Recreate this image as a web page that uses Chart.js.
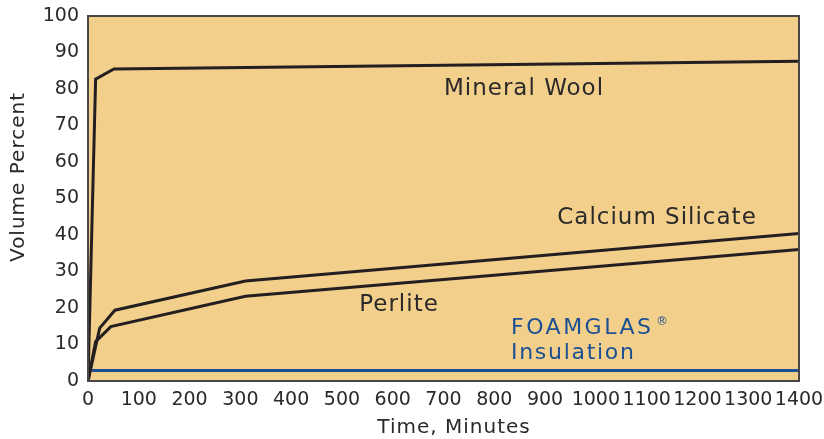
<!DOCTYPE html>
<html>
<head>
<meta charset="utf-8">
<script src="https://cdn.jsdelivr.net/npm/chart.js@4/dist/chart.umd.min.js"></script>
<style>
  html, body { margin: 0; padding: 0; background: #fff; }
  #wrap { width: 824px; height: 439px; }
</style>
</head>
<body>
<div id="wrap"><canvas id="c" width="824" height="439"></canvas></div>
<script>
'use strict';

// values (minutes, volume percent)
var mineralX = [0, 15, 51, 1400];
var mineralY = [0, 82.7, 85.5, 87.6];
var calciumX = [0, 23, 53, 310, 1400];
var calciumY = [0, 14.5, 19.4, 27.4, 40.4];
var perliteX = [0, 15, 45, 310, 1400];
var perliteY = [0, 10.8, 14.9, 23.2, 36.0];
var foamX = [8, 1400];
var foamY = [2.9, 2.9];

var xTicks = [0, 100, 200, 300, 400, 500, 600, 700, 800, 900, 1000, 1100, 1200, 1300, 1400];
var yTicks = [0, 10, 20, 30, 40, 50, 60, 70, 80, 90, 100];

var FONT = '"DejaVu Sans", sans-serif';
var INK = '#231f20';
var TEXT = '#2b2929';
var BLUE = '#1d4f93';
var FILL = '#f2d08c';

function pts(xs, ys) {
    return xs.map(function(x, i) { return { x: x, y: ys[i] }; });
}

function lineSet(label, xs, ys, color, width) {
    return {
        label: label,
        data: pts(xs, ys),
        showLine: true,
        borderColor: color,
        borderWidth: width,
        pointRadius: 0,
        fill: false,
        tension: 0,
        borderJoinStyle: 'miter'
    };
}

function noPad(s) {
    s.paddingTop = 0; s.paddingBottom = 0;
    s.paddingLeft = 0; s.paddingRight = 0;
}

var plotFrame = {
    id: 'plotFrame',
    beforeDatasetsDraw: function(chart) {
        var a = chart.chartArea, ctx = chart.ctx;
        ctx.save();
        ctx.fillStyle = FILL;
        ctx.fillRect(a.left, a.top, a.right - a.left, a.bottom - a.top);
        ctx.restore();
    },
    afterDatasetsDraw: function(chart) {
        var a = chart.chartArea, ctx = chart.ctx;
        ctx.save();
        ctx.strokeStyle = '#4a4646';
        ctx.lineWidth = 2;
        ctx.strokeRect(a.left, a.top, a.right - a.left, a.bottom - a.top);

        ctx.fillStyle = TEXT;
        ctx.textAlign = 'center';
        ctx.textBaseline = 'middle';
        ctx.font = '23px ' + FONT;
        ctx.letterSpacing = '1px';
        ctx.fillText('Mineral Wool', 524, 89);
        ctx.fillText('Calcium Silicate', 657, 218);
        ctx.fillText('Perlite', 399, 305);

        ctx.fillStyle = BLUE;
        ctx.textAlign = 'left';
        ctx.font = '22px ' + FONT;
        ctx.letterSpacing = '2.5px';
        ctx.fillText('FOAMGLAS', 511, 328);
        ctx.font = '12px ' + FONT;
        ctx.letterSpacing = '0px';
        ctx.fillText('\u00ae', 656, 322);
        ctx.font = '22px ' + FONT;
        ctx.letterSpacing = '1.7px';
        ctx.fillText('Insulation', 511, 353);

        // axis titles
        ctx.fillStyle = TEXT;
        ctx.letterSpacing = '1px';
        ctx.font = '20px ' + FONT;
        ctx.textAlign = 'center';
        ctx.fillText('Time, Minutes', 454, 428);
        ctx.translate(19, 177);
        ctx.rotate(-Math.PI / 2);
        ctx.fillText('Volume Percent', 0, 0);
        ctx.restore();
    }
};

new Chart(document.getElementById('c').getContext('2d'), {
    type: 'scatter',
    data: {
        datasets: [
            lineSet('Mineral Wool', mineralX, mineralY, INK, 3),
            lineSet('Calcium Silicate', calciumX, calciumY, INK, 3),
            lineSet('Perlite', perliteX, perliteY, INK, 3),
            lineSet('FOAMGLAS Insulation', foamX, foamY, BLUE, 3)
        ]
    },
    options: {
        responsive: false,
        animation: false,
        layout: { padding: { top: 16, right: 25, bottom: 0, left: 0 } },
        plugins: {
            legend: { display: false },
            tooltip: { enabled: false }
        },
        scales: {
            x: {
                type: 'linear',
                min: 0,
                max: 1400,
                afterBuildTicks: function(s) { s.ticks = xTicks.map(function(v) { return { value: v }; }); },
                afterFit: function(s) { s.height = 58; noPad(s); },
                grid: { display: false, drawTicks: false },
                border: { display: false },
                ticks: {
                    color: TEXT, font: { family: FONT, size: 19 }, padding: 8, maxRotation: 0, autoSkip: false,
                    callback: function(v) { return String(v); }
                }
            },
            y: {
                min: 0,
                max: 100,
                afterBuildTicks: function(s) { s.ticks = yTicks.map(function(v) { return { value: v }; }); },
                afterFit: function(s) { s.width = 88; noPad(s); },
                grid: { display: false, drawTicks: false },
                border: { display: false },
                ticks: {
                    color: TEXT, font: { family: FONT, size: 19 }, padding: 9, autoSkip: false,
                    callback: function(v) { return String(v); }
                }
            }
        }
    },
    plugins: [plotFrame]
});
</script>
</body>
</html>
